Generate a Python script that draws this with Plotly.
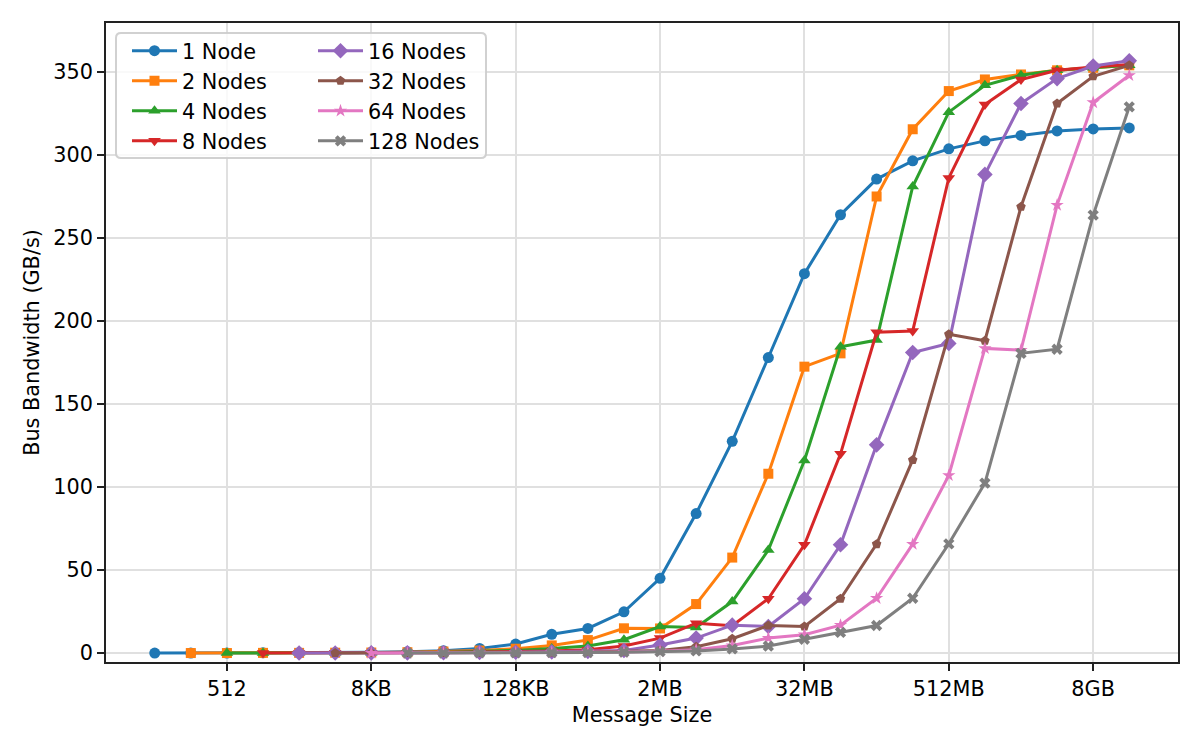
import math
import plotly.graph_objects as go

# ---------------- data ----------------
msg_sizes = [128, 256, 512, 1024, 2048, 4096, 8192, 16384, 32768, 65536,
             131072, 262144, 524288, 1048576, 2097152, 4194304, 8388608,
             16777216, 33554432, 67108864, 134217728, 268435456, 536870912,
             1073741824, 2147483648, 4294967296, 8589934592, 17179869184]

tick_vals = [512, 8192, 131072, 2097152, 33554432, 536870912, 8589934592]
tick_text = ["512", "8KB", "128KB", "2MB", "32MB", "512MB", "8GB"]

series_names = ["1 Node", "2 Nodes", "4 Nodes", "8 Nodes",
                "16 Nodes", "32 Nodes", "64 Nodes", "128 Nodes"]

bw_1 = [0.0, 0.0, 0.0, 0.1, 0.1, 0.2, 0.4, 0.7, 1.4, 2.8, 5.4, 11.3, 14.8, 24.8,
        45.0, 84.0, 127.5, 178.0, 228.5, 264.0, 285.5, 296.5, 303.7, 308.5,
        311.8, 314.5, 315.7, 316.3]
bw_2 = [0.0, 0.0, 0.1, 0.1, 0.2, 0.3, 0.5, 0.9, 1.5, 2.6, 4.6, 7.8, 14.9, 14.8,
        29.5, 57.5, 108.0, 172.5, 180.5, 275.0, 315.5, 338.5, 345.5, 348.5,
        351.0, 352.5, 354.0]
bw_4 = [0.0, 0.0, 0.1, 0.1, 0.2, 0.3, 0.5, 0.9, 1.6, 2.8, 4.3, 8.0, 16.0, 15.4,
        31.0, 62.0, 116.0, 184.5, 188.5, 281.0, 325.8, 342.0, 348.0, 351.0,
        352.5, 354.0]
bw_8 = [0.0, 0.0, 0.1, 0.1, 0.2, 0.4, 0.6, 0.9, 1.3, 2.0, 4.2, 9.0, 18.0, 16.5,
        32.7, 65.2, 120.0, 193.2, 194.0, 286.2, 330.4, 345.4, 351.0, 353.0,
        354.5]
bw_16 = [0.0, 0.0, 0.1, 0.1, 0.2, 0.3, 0.5, 0.7, 1.0, 1.5, 4.8, 9.0, 16.8,
         16.0, 32.7, 65.2, 125.4, 181.0, 186.5, 288.3, 331.0, 346.0, 353.6,
         356.8]
bw_32 = [0.0, 0.0, 0.1, 0.1, 0.2, 0.3, 0.4, 0.6, 0.9, 1.6, 3.8, 8.6, 16.6,
         16.0, 32.7, 65.6, 116.3, 192.0, 188.1, 268.8, 331.0, 347.4, 354.0]
bw_64 = [0.0, 0.0, 0.1, 0.1, 0.2, 0.3, 0.4, 0.6, 1.0, 2.0, 4.5, 9.0, 11.0,
         16.8, 33.0, 65.6, 107.0, 183.5, 182.5, 269.8, 331.6, 348.0]
bw_128 = [0.0, 0.0, 0.1, 0.1, 0.2, 0.3, 0.5, 0.8, 1.3, 2.5, 4.2, 8.3, 12.4,
          16.6, 33.0, 65.8, 102.3, 180.5, 183.0, 263.8, 329.0]

series_values = [bw_1, bw_2, bw_4, bw_8, bw_16, bw_32, bw_64, bw_128]

colors = ["#1f77b4", "#ff7f0e", "#2ca02c", "#d62728",
          "#9467bd", "#8c564b", "#e377c2", "#7f7f7f"]
symbols = ["circle", "square", "triangle-up", "triangle-down",
           "diamond", "pentagon", "star", "x"]
msizes = [11, 10, 11, 11, 12, 10, 10, 10]

# ---------------- layout geometry (pixels) ----------------
W, H = 1200, 750
ML, MR, MT, MB = 106, 22, 23, 88
PW, PH = W - ML - MR, H - MT - MB


def px_x(p):
    return (p - ML) / PW


def px_y(p):
    return 1 - (p - MT) / PH


FONT = dict(family="DejaVu Sans", size=20.8, color="#000000")

fig = go.Figure()
for i, (name, vals) in enumerate(zip(series_names, series_values)):
    xs = msg_sizes[len(msg_sizes) - len(vals):]
    fig.add_trace(go.Scatter(
        x=xs, y=vals, name=name, mode="lines+markers",
        line=dict(color=colors[i], width=3),
        marker=dict(symbol=symbols[i], size=msizes[i], color=colors[i],
                    line=dict(width=0)),
        legend="legend" if i < 4 else "legend2",
        legendgroup=name,
    ))

x_lo = 5.65 * math.log10(2)
x_hi = 35.35 * math.log10(2)

# legend frame (rounded rectangle)
bx0, by0, bx1, by1, rr = 116, 33, 486, 158, 5
def P(x, y):
    return f"{px_x(x):.5f},{px_y(y):.5f}"
frame_path = (
    f"M{P(bx0 + rr, by0)} L{P(bx1 - rr, by0)} Q{P(bx1, by0)} {P(bx1, by0 + rr)} "
    f"L{P(bx1, by1 - rr)} Q{P(bx1, by1)} {P(bx1 - rr, by1)} "
    f"L{P(bx0 + rr, by1)} Q{P(bx0, by1)} {P(bx0, by1 - rr)} "
    f"L{P(bx0, by0 + rr)} Q{P(bx0, by0)} {P(bx0 + rr, by0)} Z"
)

legend_common = dict(
    bgcolor="rgba(0,0,0,0)", borderwidth=0, font=FONT,
    xanchor="left", yanchor="top", tracegroupgap=0, itemwidth=45,
)

fig.update_layout(
    width=W, height=H,
    margin=dict(l=ML, r=MR, t=MT, b=MB, autoexpand=False),
    paper_bgcolor="white", plot_bgcolor="white",
    font=FONT,
    showlegend=True,
    legend=dict(x=px_x(127), y=px_y(30.7), **legend_common),
    legend2=dict(x=px_x(313), y=px_y(30.7), **legend_common),
    shapes=[dict(type="path", xref="paper", yref="paper", path=frame_path,
                 fillcolor="rgba(255,255,255,0.8)",
                 line=dict(color="rgba(204,204,204,0.9)", width=2),
                 layer="above")],
    xaxis=dict(
        type="log", range=[x_lo, x_hi],
        tickvals=tick_vals, ticktext=tick_text,
        showgrid=True, gridcolor="#e0e0e0", gridwidth=1.6,
        showline=True, linecolor="#222222", linewidth=1.7, mirror=True,
        ticks="outside", ticklen=7, tickwidth=1.7, tickcolor="#222222",
        zeroline=False, automargin=False,
        title=dict(text="Message Size", font=FONT, standoff=8),
    ),
    yaxis=dict(
        range=[-5.4, 379.5],
        tickvals=[0, 50, 100, 150, 200, 250, 300, 350],
        showgrid=True, gridcolor="#e0e0e0", gridwidth=1.6,
        showline=True, linecolor="#222222", linewidth=1.7, mirror=True,
        ticks="outside", ticklen=7, tickwidth=1.7, tickcolor="#222222",
        zeroline=False, automargin=False,
        title=dict(text="Bus Bandwidth (GB/s)", font=FONT, standoff=8),
    ),
)

fig.write_html("out.html", config={"displayModeBar": False},
               post_script="document.body.style.margin='0px';")
